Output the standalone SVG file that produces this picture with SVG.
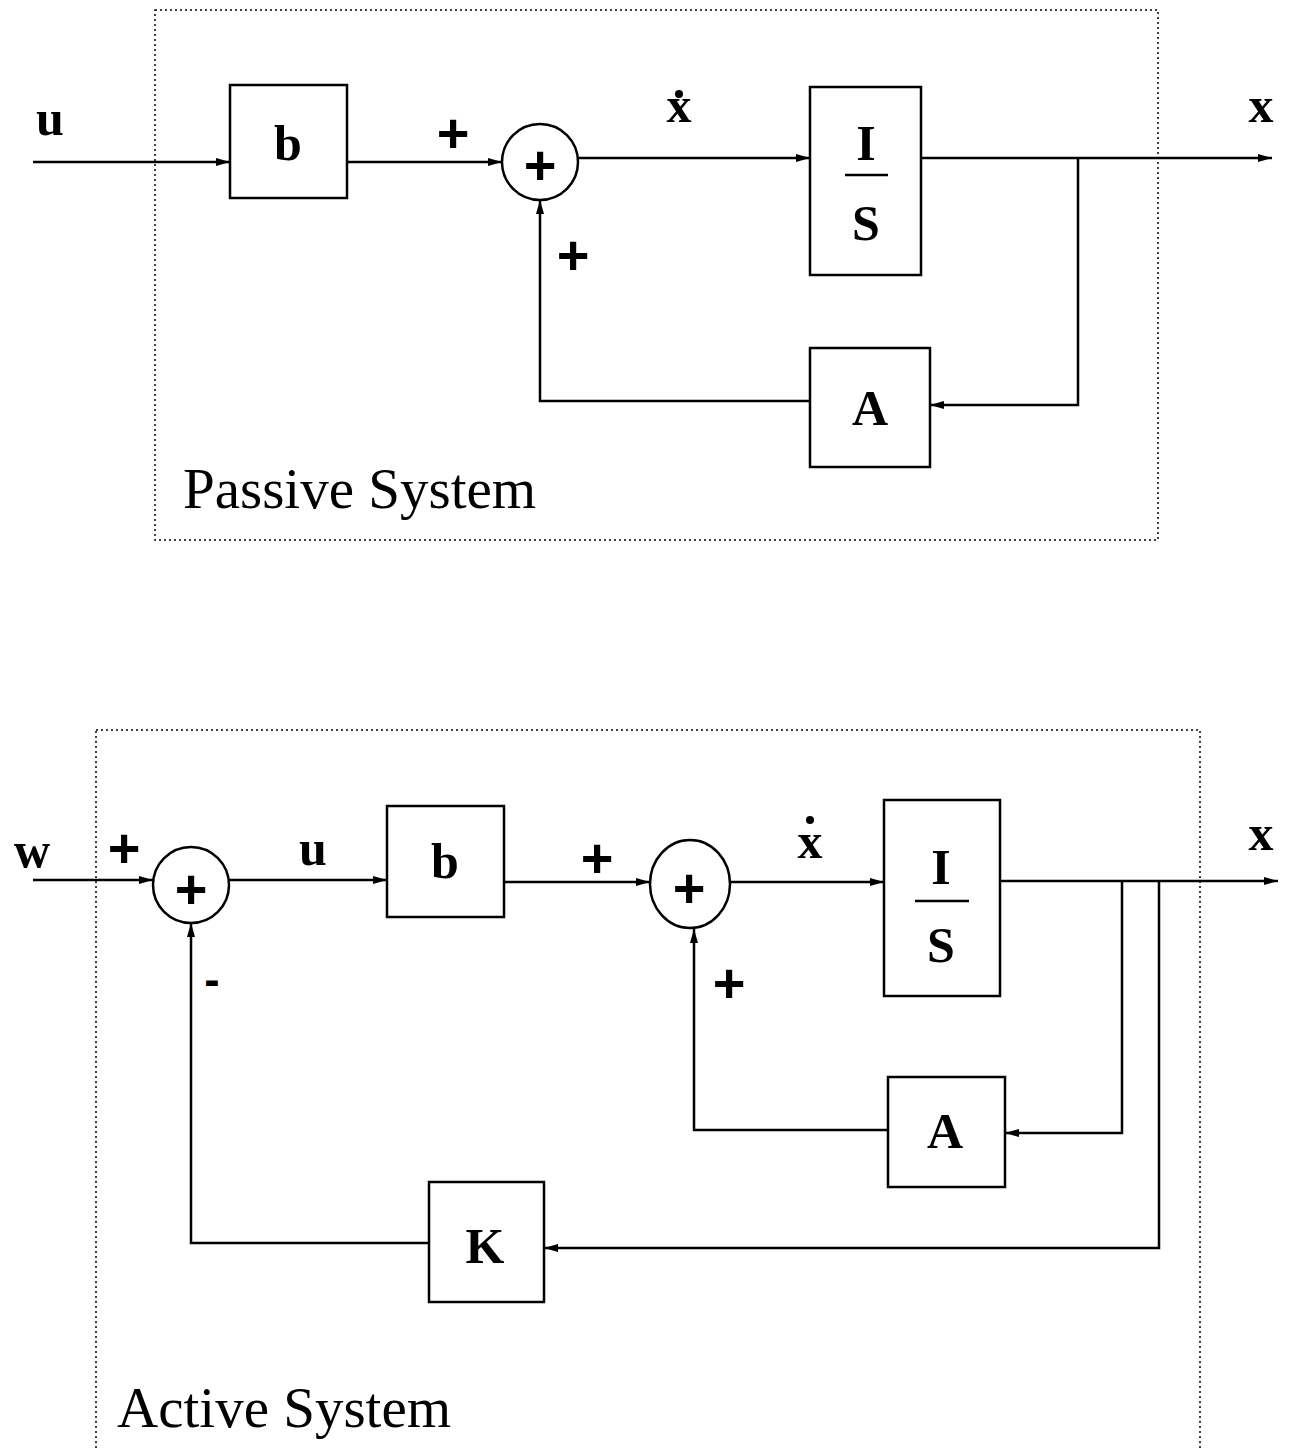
<svg xmlns="http://www.w3.org/2000/svg" width="1293" height="1451" viewBox="0 0 1293 1451">
<defs>
<marker id="ah" markerWidth="14" markerHeight="8" refX="14" refY="4" orient="auto" markerUnits="userSpaceOnUse">
<path d="M0,0 L14,4 L0,8 Z" fill="#000"/>
</marker>
<style>
.frame{fill:none;stroke:#000;stroke-width:1.5;stroke-dasharray:2,3}
.box{fill:#fff;stroke:#000;stroke-width:2.5}
.ln{fill:none;stroke:#000;stroke-width:2.5}
.lb{font-family:"Liberation Serif",serif;font-weight:bold;font-size:50px;fill:#000;text-anchor:middle}
.sg{font-family:"Liberation Sans",sans-serif;font-weight:bold;font-size:56px;fill:#000;text-anchor:middle}
.mn{font-family:"Liberation Sans",sans-serif;font-weight:bold;font-size:46px;fill:#000;text-anchor:middle}
.tt{font-family:"Liberation Serif",serif;font-size:57px;fill:#000}
</style>
</defs>
<rect width="1293" height="1451" fill="#fff"/>
<rect class="frame" x="155" y="10" width="1003" height="530"/>
<rect class="frame" x="96" y="730" width="1104" height="730"/>

<g id="connectors">
<!-- top -->
<line class="ln" x1="33" y1="162" x2="230" y2="162" marker-end="url(#ah)"/>
<line class="ln" x1="347" y1="162" x2="502" y2="162" marker-end="url(#ah)"/>
<line class="ln" x1="578" y1="158" x2="810" y2="158" marker-end="url(#ah)"/>
<line class="ln" x1="921" y1="158" x2="1272" y2="158" marker-end="url(#ah)"/>
<polyline class="ln" points="1078,158 1078,405 930,405" marker-end="url(#ah)"/>
<polyline class="ln" points="810,401 540,401 540,200" marker-end="url(#ah)"/>
<!-- bottom -->
<line class="ln" x1="33" y1="880" x2="153" y2="880" marker-end="url(#ah)"/>
<line class="ln" x1="229" y1="880" x2="387" y2="880" marker-end="url(#ah)"/>
<line class="ln" x1="504" y1="882" x2="650" y2="882" marker-end="url(#ah)"/>
<line class="ln" x1="730" y1="882" x2="884" y2="882" marker-end="url(#ah)"/>
<line class="ln" x1="1000" y1="881" x2="1278" y2="881" marker-end="url(#ah)"/>
<polyline class="ln" points="1122,881 1122,1133 1005,1133" marker-end="url(#ah)"/>
<polyline class="ln" points="888,1130 694,1130 694,929" marker-end="url(#ah)"/>
<polyline class="ln" points="1159,881 1159,1248 544,1248" marker-end="url(#ah)"/>
<polyline class="ln" points="429,1243 191,1243 191,923" marker-end="url(#ah)"/>
</g>

<!-- top nodes -->
<g id="b1"><rect class="box" x="230" y="85" width="117" height="113"/><text class="lb" x="288" y="160">b</text></g>
<g id="sum1"><circle class="box" cx="540" cy="162" r="38"/><text class="sg" x="540" y="184">+</text></g>
<g id="int1"><rect class="box" x="810" y="87" width="111" height="188"/><text class="lb" x="866" y="160">I</text><line x1="845" y1="175" x2="888" y2="175" stroke="#000" stroke-width="2.5"/><text class="lb" x="866" y="240">S</text></g>
<g id="A1"><rect class="box" x="810" y="348" width="120" height="119"/><text class="lb" x="870" y="425">A</text></g>

<!-- bottom nodes -->
<g id="sum2a"><circle class="box" cx="191" cy="885" r="38"/><text class="sg" x="191" y="908">+</text></g>
<g id="b2"><rect class="box" x="387" y="806" width="117" height="111"/><text class="lb" x="445" y="878">b</text></g>
<g id="sum2b"><ellipse class="box" cx="690" cy="884" rx="40" ry="44"/><text class="sg" x="689" y="907">+</text></g>
<g id="int2"><rect class="box" x="884" y="800" width="116" height="196"/><text class="lb" x="941" y="884">I</text><line x1="915" y1="901" x2="969" y2="901" stroke="#000" stroke-width="2.5"/><text class="lb" x="941" y="962">S</text></g>
<g id="A2"><rect class="box" x="888" y="1077" width="117" height="110"/><text class="lb" x="945" y="1148">A</text></g>
<g id="K"><rect class="box" x="429" y="1182" width="115" height="120"/><text class="lb" x="485" y="1263">K</text></g>

<!-- labels -->
<g id="labels">
<text class="lb" x="50" y="135">u</text>
<text class="sg" x="453" y="152">+</text>
<text class="sg" x="573" y="274">+</text>
<text class="lb" x="679" y="122">x</text><circle cx="679" cy="94" r="4" fill="#000"/>
<text class="lb" x="1261" y="122">x</text>
<text class="tt" x="183" y="508">Passive System</text>

<text class="lb" x="32" y="867">w</text>
<text class="sg" x="124" y="867">+</text>
<text class="mn" x="212" y="995">-</text>
<text class="lb" x="313" y="865">u</text>
<text class="sg" x="597" y="877">+</text>
<text class="lb" x="810" y="858">x</text><circle cx="810" cy="820" r="4" fill="#000"/>
<text class="sg" x="729" y="1002">+</text>
<text class="lb" x="1261" y="850">x</text>
<text class="tt" x="117" y="1427">Active System</text>
</g>
</svg>
